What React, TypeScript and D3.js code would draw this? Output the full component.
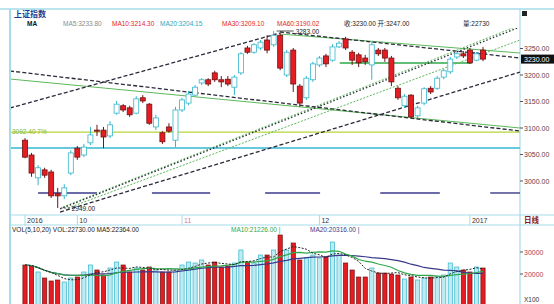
import React from 'react';
import * as d3 from 'd3';

// daily index candles, late Sep 2016 .. early Jan 2017
const openP = [3077, 3049, 3006, 3021, 3017, 2976, 2972, 3015, 3062, 3049,
  3072, 3096, 3096, 3085, 3128, 3142, 3138, 3128, 3157, 3145,
  3102, 3091, 3102, 3077, 3134, 3147, 3162, 3185, 3191, 3204,
  3191, 3192, 3177, 3204, 3251, 3243, 3251, 3266, 3257, 3275,
  3200, 3247, 3179, 3157, 3191, 3219, 3236, 3228, 3253, 3268,
  3243, 3238, 3232, 3219, 3247, 3247, 3232, 3175, 3142, 3162,
  3123, 3147, 3175, 3175, 3196, 3206, 3234, 3240, 3247, 3228, 3247];
const closeP = [3045, 3015, 3025, 3011, 2972, 2972, 2987, 3053, 3045, 3064,
  3087, 3094, 3083, 3106, 3145, 3134, 3125, 3155, 3151, 3109,
  3119, 3074, 3094, 3134, 3153, 3164, 3177, 3191, 3183, 3191,
  3187, 3183, 3196, 3240, 3243, 3257, 3262, 3247, 3275, 3213,
  3243, 3183, 3147, 3194, 3221, 3232, 3221, 3253, 3260, 3251,
  3228, 3223, 3225, 3257, 3240, 3232, 3187, 3157, 3160, 3121,
  3138, 3174, 3168, 3194, 3208, 3230, 3240, 3236, 3223, 3240, 3230];
const highP = [3081, 3053, 3030, 3025, 3021, 2987, 2994, 3058, 3066, 3070,
  3102, 3106, 3102, 3113, 3151, 3145, 3142, 3160, 3162, 3147,
  3125, 3094, 3109, 3140, 3157, 3170, 3181, 3194, 3194, 3208,
  3198, 3198, 3200, 3243, 3255, 3260, 3266, 3275, 3283, 3279,
  3247, 3251, 3183, 3198, 3225, 3236, 3240, 3258, 3264, 3272,
  3247, 3242, 3238, 3262, 3251, 3251, 3236, 3179, 3164, 3164,
  3142, 3177, 3179, 3198, 3211, 3234, 3243, 3245, 3251, 3243, 3253];
const lowP = [3043, 3008, 2992, 3006, 2968, 2949, 2966, 3011, 3040, 3045,
  3068, 3085, 3062, 3081, 3125, 3130, 3121, 3126, 3147, 3106,
  3096, 3070, 3091, 3064, 3130, 3143, 3159, 3181, 3179, 3187,
  3177, 3179, 3162, 3200, 3240, 3240, 3247, 3241, 3253, 3209,
  3196, 3168, 3140, 3153, 3187, 3215, 3215, 3225, 3251, 3247,
  3219, 3215, 3219, 3191, 3236, 3225, 3179, 3153, 3138, 3119,
  3119, 3143, 3164, 3172, 3192, 3202, 3230, 3232, 3221, 3226, 3226];
const volume = [24090, 23630, 20910, 18180, 16820, 17270, 16360, 18180, 18630, 20910,
  24090, 21820, 19540, 22730, 25450, 24090, 20910, 22730, 21820, 23180,
  21820, 20910, 20910, 21820, 24090, 25450, 25000, 26360, 24090, 25450,
  23180, 23630, 25000, 30910, 25450, 25000, 28630, 28630, 30910, 37720,
  30910, 34090, 26360, 27270, 28630, 27270, 27720, 34540, 28630, 25000,
  21820, 18630, 18630, 22730, 20450, 20450, 20000, 19540, 17730, 18630,
  17270, 18180, 18630, 19090, 19540, 25000, 23180, 21820, 20910, 23180, 22730];

const dateTicks = [
  { i: 0, label: '2016' },
  { i: 8, label: '10' },
  { i: 24, label: '11' },
  { i: 45, label: '12' },
  { i: 68, label: '2017' },
];
const priceTicks = [3000, 3050, 3100, 3150, 3200, 3250];
const volTicks = [30000, 20000];

// hand-drawn lines: [from index, from price, to index, to price]
const blackDashLines = [
  [-2.29, 3137.7, 38.97, 3279.2],
  [38.97, 3281.1, 75.65, 3232.1],
  [-2.29, 3207.5, 75.65, 3094.3],
  [5.35, 2941.5, 75.65, 3205.6],
  [5.35, 2947.2, 75.65, 3290.6],
];
const greenLines = [
  [38.97, 3277.3, 75.65, 3241.5],
  [-2.29, 3192.4, 75.65, 3100.0],
  [5.81, 2950.9, 75.65, 3294.3],
  [6.57, 2949.1, 75.65, 3266.0],
];
const yellowLevel = 3092.4;
const cyanLevel = 3062.3;
const navyLevel = 2977.4;
const navySpans = [[2, 11], [19.4, 28.3], [36.7, 45.1], [54.3, 63.4], [71.1, 75.65]];
const greenSpan = [48.1, 68.3, 3222.6];
const purpleSpan = [68.3, 70.6, 3241.5];

const RED = '#e51d22';
const RED_DK = '#6e1214';
const CYAN = '#34b6cc';
const FRAME = '#a6dbea';
const FONT = '"Liberation Sans", Arial, "Noto Sans CJK SC", sans-serif';

function movingAvg(arr: number[], n: number) {
  return arr.map((_, i) => d3.mean(arr.slice(Math.max(0, i - n + 1), i + 1)) as number);
}

export default function App() {
  const N = openP.length;
  const x = d3.scaleLinear().domain([0, N - 1]).range([25, 483]);
  const y = d3.scaleLinear().domain([3000, 3250]).range([181, 48.5]);
  const yv = d3.scaleLinear().domain([0, 30000]).range([318, 252]);
  const bw = 5;

  const vma5 = movingAvg(volume, 5);
  const vma10 = movingAvg(volume, 10);
  const vma20 = movingAvg(volume, 20);
  const vLine = d3.line<number>().x((_, i) => x(i)).y(d => yv(d));

  const cma = [5, 10, 20, 30, 60].map(n => movingAvg(closeP, n)[N - 1]);
  const last = closeP[N - 1];
  const hiIdx = d3.maxIndex(highP);
  const loIdx = d3.minIndex(lowP);

  const seg = (l: number[], k: string, stroke: string, dash?: string, sw = 1) => (
    <line key={k} x1={x(l[0])} y1={y(l[1])} x2={x(l[2])} y2={y(l[3])}
      stroke={stroke} strokeWidth={sw} strokeDasharray={dash} />
  );

  const maRow: [number, string, string][] = [
    [27, '#111', 'MA'],
    [63, '#8a8a8a', `MA5:${cma[0].toFixed(2)}`],
    [112, RED, `MA10:${cma[1].toFixed(2)}`],
    [160, '#2aa9bf', `MA20:${cma[2].toFixed(2)}`],
    [222, RED, `MA30:${cma[3].toFixed(2)}`],
    [277, RED, `MA60:${cma[4].toFixed(2)}`],
    [344, '#222', `收:${last.toFixed(2)}  开:${openP[N - 1].toFixed(2)}`],
    [463, '#222', `量:${volume[N - 1]}`],
  ];

  return (
    <svg width={554} height={304} style={{ position: 'absolute', left: 0, top: 0, background: '#fff' }}
      fontFamily={FONT}>
      <defs>
        <clipPath id="main"><rect x={11} y={28} width={509} height={187} /></clipPath>
        <clipPath id="vol"><rect x={11} y={234} width={509} height={70} /></clipPath>
      </defs>

      {/* frame */}
      <line x1={0} x2={554} y1={9} y2={9} stroke={FRAME} strokeWidth={1.5} />
      <line x1={10} x2={10} y1={9} y2={304} stroke={FRAME} strokeWidth={2} />
      <line x1={520} x2={520} y1={9} y2={304} stroke={FRAME} strokeWidth={1.2} />
      <line x1={10} x2={554} y1={215} y2={215} stroke={FRAME} strokeWidth={1.2} />
      <line x1={10} x2={554} y1={225} y2={225} stroke={FRAME} strokeWidth={1.2} />

      {/* headings */}
      <text x={14} y={17} fontSize={8} fontWeight="bold" fill="#1a3a8a">上证指数</text>
      {maRow.map(([tx, col, s], k) => (
        <text key={'ma' + k} x={tx} y={26} fontSize={6.5} fill={col} fontWeight={k === 0 ? 'bold' : 'normal'}>{s}</text>
      ))}
      <rect x={522} y={11} width={5} height={5} fill="#222" />

      {/* main plot */}
      <g clipPath="url(#main)">
        <line x1={x(-2.29)} x2={x(75.65)} y1={y(yellowLevel)} y2={y(yellowLevel)} stroke="#b7d43a" strokeWidth={1.3} />
        <line x1={x(-2.29)} x2={x(75.65)} y1={y(cyanLevel)} y2={y(cyanLevel)} stroke="#4cc0da" strokeWidth={1.8} opacity={0.85} />
        {navySpans.map((s, k) => (
          <line key={'n' + k} x1={x(s[0])} x2={x(s[1])} y1={y(navyLevel)} y2={y(navyLevel)} stroke="#3b3a8a" strokeWidth={1.4} />
        ))}
        <line x1={x(greenSpan[0])} x2={x(greenSpan[1])} y1={y(greenSpan[2])} y2={y(greenSpan[2])} stroke="#2fa84a" strokeWidth={1.4} />
        <line x1={x(purpleSpan[0])} x2={x(purpleSpan[1])} y1={y(purpleSpan[2])} y2={y(purpleSpan[2])} stroke="#5a4aa8" strokeWidth={1.2} strokeDasharray="3,1" />
        {greenLines.map((l, k) => seg(l, 'g' + k, '#5cb85a', k > 1 ? '2,1.5' : undefined, 1))}
        {blackDashLines.map((l, k) => seg(l, 'b' + k, '#2a2a3a', k === 4 ? '1.5,2' : '4,2.2', 1.3))}

        {openP.map((o, i) => {
          const c = closeP[i];
          const up = c > o;
          const cx = x(i);
          const top = y(Math.max(o, c));
          const bot = y(Math.min(o, c));
          return (
            <g key={i}>
              <line x1={cx} x2={cx} y1={y(highP[i])} y2={y(lowP[i])} stroke={up ? CYAN : RED_DK} strokeWidth={1} />
              <rect x={cx - bw / 2} y={top} width={bw} height={Math.max(1, bot - top)}
                fill={up ? '#fff' : RED} stroke={up ? CYAN : RED_DK} strokeWidth={0.8} />
            </g>
          );
        })}

        {/* high / low marks */}
        <line x1={x(hiIdx) + 3} x2={x(hiIdx) + 20} y1={y(highP[hiIdx])} y2={y(highP[hiIdx])} stroke="#222" strokeWidth={0.8} />
        <text x={x(hiIdx) + 22} y={y(highP[hiIdx]) + 2.5} fontSize={6.5} fill="#222">{highP[hiIdx].toFixed(2)}</text>
        <line x1={x(loIdx) + 3} x2={x(loIdx) + 12} y1={y(lowP[loIdx])} y2={y(lowP[loIdx])} stroke="#222" strokeWidth={0.8} strokeDasharray="2,1.5" />
        <text x={x(loIdx) + 14} y={y(lowP[loIdx]) + 2.5} fontSize={6.5} fill="#222">{lowP[loIdx].toFixed(2)}</text>
      </g>
      <text x={12} y={y(yellowLevel) + 2} fontSize={6.5} fill="#7cb83a">{yellowLevel.toFixed(2)} 7%</text>

      {/* right axis */}
      {priceTicks.map(t => (
        <g key={t}>
          <line x1={520} x2={523} y1={y(t)} y2={y(t)} stroke="#555" />
          <text x={524} y={y(t) + 2.5} fontSize={7} fill="#6a3a4a">{t.toFixed(2)}</text>
        </g>
      ))}
      <rect x={521} y={y(last) - 4.5} width={33} height={9} fill="#111" />
      <text x={524} y={y(last) + 2.5} fontSize={7} fill="#fff">{last.toFixed(2)}</text>

      {/* date strip */}
      {dateTicks.map(d => (
        <g key={d.label}>
          <line x1={x(d.i)} x2={x(d.i)} y1={215} y2={225} stroke={FRAME} />
          <text x={x(d.i) + 2} y={223} fontSize={7} fill={d.label === '11' ? '#e07a8a' : '#333'}>{d.label}</text>
        </g>
      ))}
      <text x={524} y={223} fontSize={7.5} fill="#8a1a1a" fontWeight="bold">日线</text>

      {/* volume */}
      <text x={12} y={232} fontSize={6.5} fill="#222">VOL(5,10,20)  VOL:{volume[N - 1].toFixed(2)}  MA5:{vma5[N - 1].toFixed(2)}</text>
      <text x={231} y={232} fontSize={6.5} fill="#2fa84a">MA10:{vma10[N - 1].toFixed(2)} |</text>
      <text x={310} y={232} fontSize={6.5} fill="#3b3a8a">MA20:{vma20[N - 1].toFixed(2)} |</text>
      <g clipPath="url(#vol)">
        {volume.map((v, i) => {
          const up = closeP[i] > openP[i];
          return (
            <rect key={i} x={x(i) - 2.1} y={yv(v)} width={4.2} height={yv(0) - yv(v)}
              fill={up ? '#bfeaf2' : RED} stroke={up ? CYAN : RED_DK} strokeWidth={0.7} />
          );
        })}
        <path d={vLine(vma20) || ''} fill="none" stroke="#3b3a8a" strokeWidth={1.2} />
        <path d={vLine(vma10) || ''} fill="none" stroke="#2fa84a" strokeWidth={1.2} />
        <path d={vLine(vma5) || ''} fill="none" stroke="#222" strokeWidth={1} strokeDasharray="2,1.5" />
      </g>
      {volTicks.map(t => (
        <g key={t}>
          <line x1={520} x2={523} y1={yv(t)} y2={yv(t)} stroke="#555" />
          <text x={524} y={yv(t) + 2.5} fontSize={7} fill="#b04050">{t}</text>
        </g>
      ))}
      <text x={524} y={302} fontSize={6.5} fill="#333">X100</text>
    </svg>
  );
}
